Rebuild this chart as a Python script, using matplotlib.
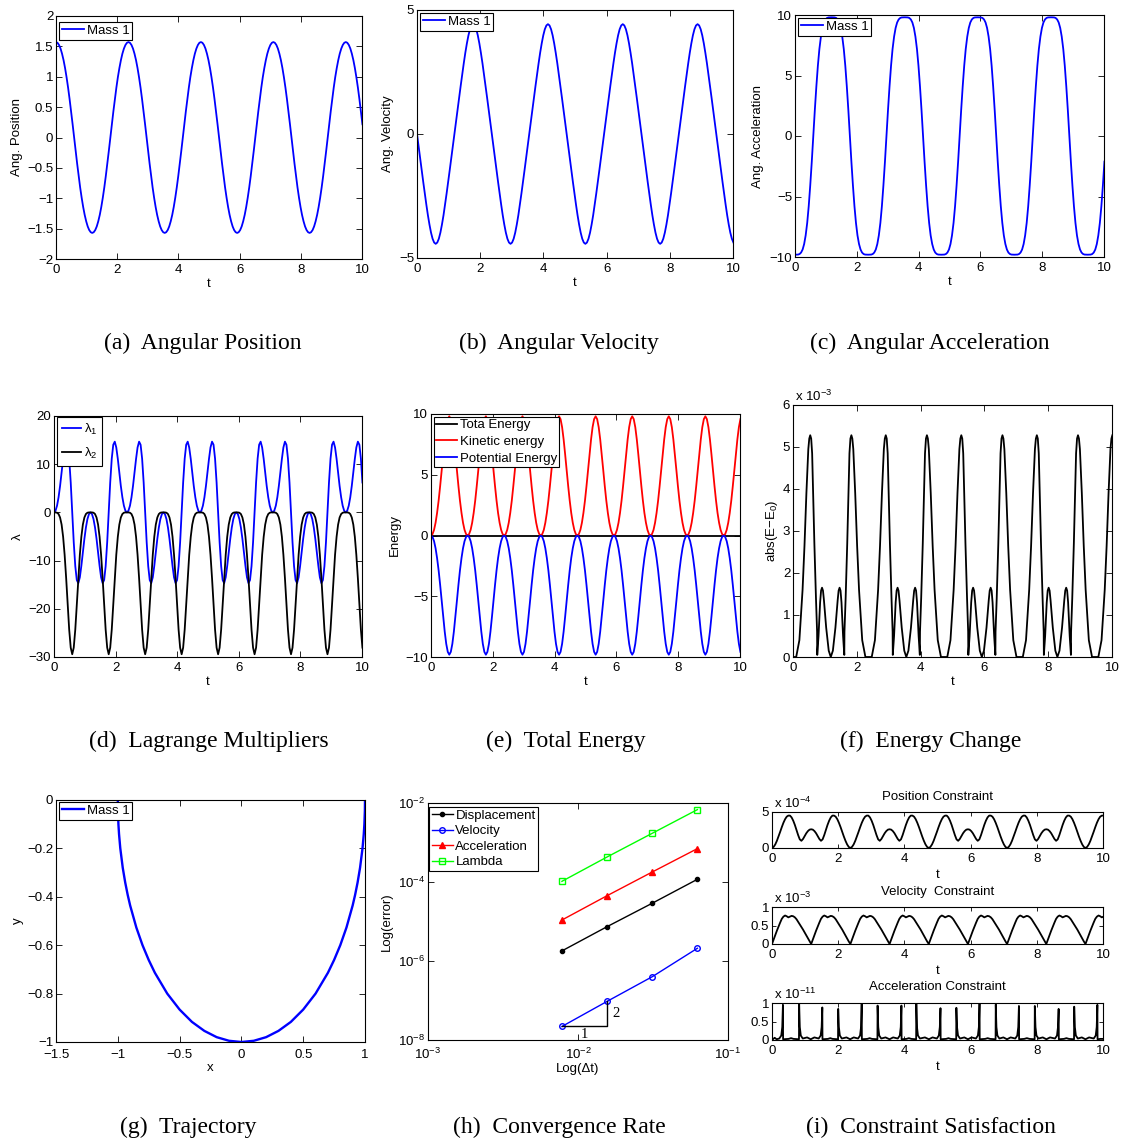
import matplotlib
matplotlib.use("Agg")
import matplotlib.pyplot as plt
from matplotlib.ticker import FixedLocator, NullLocator

plt.rcParams['font.family'] = ['Liberation Sans', 'DejaVu Sans']
plt.rcParams['mathtext.fontset'] = 'custom'
plt.rcParams['mathtext.rm'] = 'Liberation Sans'
plt.rcParams['mathtext.it'] = 'Liberation Sans:italic'
plt.rcParams['mathtext.bf'] = 'Liberation Sans:bold'

# ---- data ----
# time samples of the simulation (s), one row per swing period
t = [0.000, 0.049, 0.099, 0.148, 0.197, 0.247, 0.296, 0.345, 0.395, 0.444, 0.493, 0.543, 0.592, 0.641, 0.691, 0.740, 0.789, 0.839, 0.888, 0.937, 0.987, 1.036, 1.085, 1.135,
     1.184, 1.233, 1.283, 1.332, 1.381, 1.431, 1.480, 1.529, 1.579, 1.628, 1.677, 1.727, 1.776, 1.825, 1.875, 1.924, 1.973, 2.022, 2.072, 2.121, 2.170, 2.220, 2.269, 2.318,
     2.368, 2.417, 2.467, 2.516, 2.565, 2.615, 2.664, 2.713, 2.763, 2.812, 2.861, 2.911, 2.960, 3.009, 3.059, 3.108, 3.157, 3.207, 3.256, 3.305, 3.355, 3.404, 3.453, 3.503,
     3.552, 3.601, 3.651, 3.700, 3.749, 3.799, 3.848, 3.897, 3.947, 3.996, 4.045, 4.095, 4.144, 4.193, 4.243, 4.292, 4.341, 4.390, 4.440, 4.489, 4.538, 4.588, 4.637, 4.686,
     4.736, 4.785, 4.835, 4.884, 4.933, 4.983, 5.032, 5.081, 5.131, 5.180, 5.229, 5.279, 5.328, 5.377, 5.427, 5.476, 5.525, 5.575, 5.624, 5.673, 5.723, 5.772, 5.821, 5.871,
     5.920, 5.969, 6.019, 6.068, 6.117, 6.167, 6.216, 6.265, 6.315, 6.364, 6.413, 6.463, 6.512, 6.561, 6.611, 6.660, 6.709, 6.758, 6.808, 6.857, 6.906, 6.956, 7.005, 7.054,
     7.103, 7.152, 7.202, 7.251, 7.300, 7.350, 7.399, 7.448, 7.498, 7.547, 7.596, 7.646, 7.695, 7.744, 7.794, 7.843, 7.892, 7.942, 7.991, 8.040, 8.090, 8.139, 8.188, 8.238,
     8.287, 8.336, 8.386, 8.435, 8.484, 8.534, 8.583, 8.632, 8.682, 8.731, 8.780, 8.830, 8.879, 8.928, 8.978, 9.027, 9.076, 9.125, 9.175, 9.224, 9.273, 9.323, 9.372, 9.421,
     9.471, 9.520, 9.570, 9.619, 9.668, 9.718, 9.767, 9.816, 9.866, 9.915, 9.964, 10.014]

ang_pos = [1.571, 1.559, 1.523, 1.464, 1.380, 1.273, 1.144, 0.993, 0.821, 0.633, 0.430, 0.218, 0.000, -0.218, -0.430, -0.633, -0.821, -0.993, -1.144, -1.273, -1.380, -1.464, -1.523, -1.559,
           -1.571, -1.559, -1.523, -1.464, -1.380, -1.273, -1.144, -0.993, -0.821, -0.633, -0.430, -0.218, 0.000, 0.218, 0.430, 0.633, 0.821, 0.993, 1.144, 1.273, 1.380, 1.464, 1.523, 1.559,
           1.571, 1.559, 1.523, 1.464, 1.380, 1.273, 1.144, 0.993, 0.821, 0.633, 0.430, 0.218, 0.000, -0.218, -0.430, -0.633, -0.821, -0.993, -1.144, -1.273, -1.380, -1.464, -1.523, -1.559,
           -1.571, -1.559, -1.523, -1.464, -1.380, -1.273, -1.144, -0.993, -0.821, -0.633, -0.430, -0.218, 0.000, 0.218, 0.430, 0.633, 0.821, 0.993, 1.144, 1.273, 1.380, 1.464, 1.523, 1.559,
           1.571, 1.559, 1.523, 1.464, 1.380, 1.273, 1.144, 0.993, 0.821, 0.633, 0.430, 0.218, 0.000, -0.218, -0.430, -0.633, -0.821, -0.993, -1.144, -1.273, -1.380, -1.464, -1.523, -1.559,
           -1.571, -1.559, -1.523, -1.464, -1.380, -1.273, -1.144, -0.993, -0.821, -0.633, -0.430, -0.218, 0.000, 0.218, 0.430, 0.633, 0.821, 0.993, 1.144, 1.273, 1.380, 1.464, 1.523, 1.559,
           1.571, 1.559, 1.523, 1.464, 1.380, 1.273, 1.144, 0.993, 0.821, 0.633, 0.430, 0.218, 0.000, -0.218, -0.430, -0.633, -0.821, -0.993, -1.144, -1.273, -1.380, -1.464, -1.523, -1.559,
           -1.571, -1.559, -1.523, -1.464, -1.380, -1.273, -1.144, -0.993, -0.821, -0.633, -0.430, -0.218, 0.000, 0.218, 0.430, 0.633, 0.821, 0.993, 1.144, 1.273, 1.380, 1.464, 1.523, 1.559,
           1.571, 1.559, 1.523, 1.464, 1.380, 1.273, 1.144, 0.993, 0.821, 0.633, 0.430, 0.218]

ang_vel = [0.000, -0.484, -0.967, -1.450, -1.929, -2.398, -2.851, -3.275, -3.656, -3.978, -4.223, -4.377, -4.429, -4.377, -4.223, -3.978, -3.656, -3.275, -2.851, -2.398, -1.929, -1.450, -0.967, -0.484,
           0.000, 0.484, 0.967, 1.450, 1.929, 2.398, 2.851, 3.275, 3.656, 3.978, 4.223, 4.377, 4.429, 4.377, 4.223, 3.978, 3.656, 3.275, 2.851, 2.398, 1.929, 1.450, 0.967, 0.484,
           0.000, -0.484, -0.967, -1.450, -1.929, -2.398, -2.851, -3.275, -3.656, -3.978, -4.223, -4.377, -4.429, -4.377, -4.223, -3.978, -3.656, -3.275, -2.851, -2.398, -1.929, -1.450, -0.967, -0.484,
           0.000, 0.484, 0.967, 1.450, 1.929, 2.398, 2.851, 3.275, 3.656, 3.978, 4.223, 4.377, 4.429, 4.377, 4.223, 3.978, 3.656, 3.275, 2.851, 2.398, 1.929, 1.450, 0.967, 0.484,
           0.000, -0.484, -0.967, -1.450, -1.929, -2.398, -2.851, -3.275, -3.656, -3.978, -4.223, -4.377, -4.429, -4.377, -4.223, -3.978, -3.656, -3.275, -2.851, -2.398, -1.929, -1.450, -0.967, -0.484,
           0.000, 0.484, 0.967, 1.450, 1.929, 2.398, 2.851, 3.275, 3.656, 3.978, 4.223, 4.377, 4.429, 4.377, 4.223, 3.978, 3.656, 3.275, 2.851, 2.398, 1.929, 1.450, 0.967, 0.484,
           0.000, -0.484, -0.967, -1.450, -1.929, -2.398, -2.851, -3.275, -3.656, -3.978, -4.223, -4.377, -4.429, -4.377, -4.223, -3.978, -3.656, -3.275, -2.851, -2.398, -1.929, -1.450, -0.967, -0.484,
           0.000, 0.484, 0.967, 1.450, 1.929, 2.398, 2.851, 3.275, 3.656, 3.978, 4.223, 4.377, 4.429, 4.377, 4.223, 3.978, 3.656, 3.275, 2.851, 2.398, 1.929, 1.450, 0.967, 0.484,
           0.000, -0.484, -0.967, -1.450, -1.929, -2.398, -2.851, -3.275, -3.656, -3.978, -4.223, -4.377]

ang_acc = [-9.810, -9.809, -9.799, -9.754, -9.632, -9.379, -8.929, -8.215, -7.181, -5.801, -4.091, -2.118, 0.000, 2.118, 4.091, 5.801, 7.181, 8.215, 8.929, 9.379, 9.632, 9.754, 9.799, 9.809,
           9.810, 9.809, 9.799, 9.754, 9.632, 9.379, 8.929, 8.215, 7.181, 5.801, 4.091, 2.118, 0.000, -2.118, -4.091, -5.801, -7.181, -8.215, -8.929, -9.379, -9.632, -9.754, -9.799, -9.809,
           -9.810, -9.809, -9.799, -9.754, -9.632, -9.379, -8.929, -8.215, -7.181, -5.801, -4.091, -2.118, 0.000, 2.118, 4.091, 5.801, 7.181, 8.215, 8.929, 9.379, 9.632, 9.754, 9.799, 9.809,
           9.810, 9.809, 9.799, 9.754, 9.632, 9.379, 8.929, 8.215, 7.181, 5.801, 4.091, 2.118, 0.000, -2.118, -4.091, -5.801, -7.181, -8.215, -8.929, -9.379, -9.632, -9.754, -9.799, -9.809,
           -9.810, -9.809, -9.799, -9.754, -9.632, -9.379, -8.929, -8.215, -7.181, -5.801, -4.091, -2.118, 0.000, 2.118, 4.091, 5.801, 7.181, 8.215, 8.929, 9.379, 9.632, 9.754, 9.799, 9.809,
           9.810, 9.809, 9.799, 9.754, 9.632, 9.379, 8.929, 8.215, 7.181, 5.801, 4.091, 2.118, 0.000, -2.118, -4.091, -5.801, -7.181, -8.215, -8.929, -9.379, -9.632, -9.754, -9.799, -9.809,
           -9.810, -9.809, -9.799, -9.754, -9.632, -9.379, -8.929, -8.215, -7.181, -5.801, -4.091, -2.118, 0.000, 2.118, 4.091, 5.801, 7.181, 8.215, 8.929, 9.379, 9.632, 9.754, 9.799, 9.809,
           9.810, 9.809, 9.799, 9.754, 9.632, 9.379, 8.929, 8.215, 7.181, 5.801, 4.091, 2.118, 0.000, -2.118, -4.091, -5.801, -7.181, -8.215, -8.929, -9.379, -9.632, -9.754, -9.799, -9.809,
           -9.810, -9.809, -9.799, -9.754, -9.632, -9.379, -8.929, -8.215, -7.181, -5.801, -4.091, -2.118]

lambda1 = [0.000, 0.351, 1.400, 3.135, 5.479, 8.248, 11.095, 13.471, 14.677, 14.035, 11.156, 6.204, 0.000, -6.204, -11.156, -14.035, -14.677, -13.471, -11.095, -8.248, -5.479, -3.135, -1.400, -0.351,
           0.000, -0.351, -1.400, -3.135, -5.479, -8.248, -11.095, -13.471, -14.677, -14.035, -11.156, -6.204, 0.000, 6.204, 11.156, 14.035, 14.677, 13.471, 11.095, 8.248, 5.479, 3.135, 1.400, 0.351,
           0.000, 0.351, 1.400, 3.135, 5.479, 8.248, 11.095, 13.471, 14.677, 14.035, 11.156, 6.204, 0.000, -6.204, -11.156, -14.035, -14.677, -13.471, -11.095, -8.248, -5.479, -3.135, -1.400, -0.351,
           0.000, -0.351, -1.400, -3.135, -5.479, -8.248, -11.095, -13.471, -14.677, -14.035, -11.156, -6.204, 0.000, 6.204, 11.156, 14.035, 14.677, 13.471, 11.095, 8.248, 5.479, 3.135, 1.400, 0.351,
           0.000, 0.351, 1.400, 3.135, 5.479, 8.248, 11.095, 13.471, 14.677, 14.035, 11.156, 6.204, 0.000, -6.204, -11.156, -14.035, -14.677, -13.471, -11.095, -8.248, -5.479, -3.135, -1.400, -0.351,
           0.000, -0.351, -1.400, -3.135, -5.479, -8.248, -11.095, -13.471, -14.677, -14.035, -11.156, -6.204, 0.000, 6.204, 11.156, 14.035, 14.677, 13.471, 11.095, 8.248, 5.479, 3.135, 1.400, 0.351,
           0.000, 0.351, 1.400, 3.135, 5.479, 8.248, 11.095, 13.471, 14.677, 14.035, 11.156, 6.204, 0.000, -6.204, -11.156, -14.035, -14.677, -13.471, -11.095, -8.248, -5.479, -3.135, -1.400, -0.351,
           0.000, -0.351, -1.400, -3.135, -5.479, -8.248, -11.095, -13.471, -14.677, -14.035, -11.156, -6.204, 0.000, 6.204, 11.156, 14.035, 14.677, 13.471, 11.095, 8.248, 5.479, 3.135, 1.400, 0.351,
           0.000, 0.351, 1.400, 3.135, 5.479, 8.248, 11.095, 13.471, 14.677, 14.035, 11.156, 6.204]

lambda2 = [0.000, -0.004, -0.067, -0.338, -1.058, -2.529, -5.051, -8.793, -13.661, -19.137, -24.311, -28.058, -29.430, -28.058, -24.311, -19.137, -13.661, -8.793, -5.051, -2.529, -1.058, -0.338, -0.067, -0.004,
           0.000, -0.004, -0.067, -0.338, -1.058, -2.529, -5.051, -8.793, -13.661, -19.137, -24.311, -28.058, -29.430, -28.058, -24.311, -19.137, -13.661, -8.793, -5.051, -2.529, -1.058, -0.338, -0.067, -0.004,
           0.000, -0.004, -0.067, -0.338, -1.058, -2.529, -5.051, -8.793, -13.661, -19.137, -24.311, -28.058, -29.430, -28.058, -24.311, -19.137, -13.661, -8.793, -5.051, -2.529, -1.058, -0.338, -0.067, -0.004,
           0.000, -0.004, -0.067, -0.338, -1.058, -2.529, -5.051, -8.793, -13.661, -19.137, -24.311, -28.058, -29.430, -28.058, -24.311, -19.137, -13.661, -8.793, -5.051, -2.529, -1.058, -0.338, -0.067, -0.004,
           0.000, -0.004, -0.067, -0.338, -1.058, -2.529, -5.051, -8.793, -13.661, -19.137, -24.311, -28.058, -29.430, -28.058, -24.311, -19.137, -13.661, -8.793, -5.051, -2.529, -1.058, -0.338, -0.067, -0.004,
           0.000, -0.004, -0.067, -0.338, -1.058, -2.529, -5.051, -8.793, -13.661, -19.137, -24.311, -28.058, -29.430, -28.058, -24.311, -19.137, -13.661, -8.793, -5.051, -2.529, -1.058, -0.338, -0.067, -0.004,
           0.000, -0.004, -0.067, -0.338, -1.058, -2.529, -5.051, -8.793, -13.661, -19.137, -24.311, -28.058, -29.430, -28.058, -24.311, -19.137, -13.661, -8.793, -5.051, -2.529, -1.058, -0.338, -0.067, -0.004,
           0.000, -0.004, -0.067, -0.338, -1.058, -2.529, -5.051, -8.793, -13.661, -19.137, -24.311, -28.058, -29.430, -28.058, -24.311, -19.137, -13.661, -8.793, -5.051, -2.529, -1.058, -0.338, -0.067, -0.004,
           0.000, -0.004, -0.067, -0.338, -1.058, -2.529, -5.051, -8.793, -13.661, -19.137, -24.311, -28.058]

kinetic = [0.000, 0.117, 0.467, 1.051, 1.860, 2.876, 4.064, 5.362, 6.684, 7.911, 8.916, 9.579, 9.810, 9.579, 8.916, 7.911, 6.684, 5.362, 4.064, 2.876, 1.860, 1.051, 0.467, 0.117,
           0.000, 0.117, 0.467, 1.051, 1.860, 2.876, 4.064, 5.362, 6.684, 7.911, 8.916, 9.579, 9.810, 9.579, 8.916, 7.911, 6.684, 5.362, 4.064, 2.876, 1.860, 1.051, 0.467, 0.117,
           0.000, 0.117, 0.467, 1.051, 1.860, 2.876, 4.064, 5.362, 6.684, 7.911, 8.916, 9.579, 9.810, 9.579, 8.916, 7.911, 6.684, 5.362, 4.064, 2.876, 1.860, 1.051, 0.467, 0.117,
           0.000, 0.117, 0.467, 1.051, 1.860, 2.876, 4.064, 5.362, 6.684, 7.911, 8.916, 9.579, 9.810, 9.579, 8.916, 7.911, 6.684, 5.362, 4.064, 2.876, 1.860, 1.051, 0.467, 0.117,
           0.000, 0.117, 0.467, 1.051, 1.860, 2.876, 4.064, 5.362, 6.684, 7.911, 8.916, 9.579, 9.810, 9.579, 8.916, 7.911, 6.684, 5.362, 4.064, 2.876, 1.860, 1.051, 0.467, 0.117,
           0.000, 0.117, 0.467, 1.051, 1.860, 2.876, 4.064, 5.362, 6.684, 7.911, 8.916, 9.579, 9.810, 9.579, 8.916, 7.911, 6.684, 5.362, 4.064, 2.876, 1.860, 1.051, 0.467, 0.117,
           0.000, 0.117, 0.467, 1.051, 1.860, 2.876, 4.064, 5.362, 6.684, 7.911, 8.916, 9.579, 9.810, 9.579, 8.916, 7.911, 6.684, 5.362, 4.064, 2.876, 1.860, 1.051, 0.467, 0.117,
           0.000, 0.117, 0.467, 1.051, 1.860, 2.876, 4.064, 5.362, 6.684, 7.911, 8.916, 9.579, 9.810, 9.579, 8.916, 7.911, 6.684, 5.362, 4.064, 2.876, 1.860, 1.051, 0.467, 0.117,
           0.000, 0.117, 0.467, 1.051, 1.860, 2.876, 4.064, 5.362, 6.684, 7.911, 8.916, 9.579]

potential = [0.000, -0.117, -0.467, -1.051, -1.860, -2.876, -4.064, -5.362, -6.684, -7.911, -8.916, -9.579, -9.810, -9.579, -8.916, -7.911, -6.684, -5.362, -4.064, -2.876, -1.860, -1.051, -0.467, -0.117,
             0.000, -0.117, -0.467, -1.051, -1.860, -2.876, -4.064, -5.362, -6.684, -7.911, -8.916, -9.579, -9.810, -9.579, -8.916, -7.911, -6.684, -5.362, -4.064, -2.876, -1.860, -1.051, -0.467, -0.117,
             0.000, -0.117, -0.467, -1.051, -1.860, -2.876, -4.064, -5.362, -6.684, -7.911, -8.916, -9.579, -9.810, -9.579, -8.916, -7.911, -6.684, -5.362, -4.064, -2.876, -1.860, -1.051, -0.467, -0.117,
             0.000, -0.117, -0.467, -1.051, -1.860, -2.876, -4.064, -5.362, -6.684, -7.911, -8.916, -9.579, -9.810, -9.579, -8.916, -7.911, -6.684, -5.362, -4.064, -2.876, -1.860, -1.051, -0.467, -0.117,
             0.000, -0.117, -0.467, -1.051, -1.860, -2.876, -4.064, -5.362, -6.684, -7.911, -8.916, -9.579, -9.810, -9.579, -8.916, -7.911, -6.684, -5.362, -4.064, -2.876, -1.860, -1.051, -0.467, -0.117,
             0.000, -0.117, -0.467, -1.051, -1.860, -2.876, -4.064, -5.362, -6.684, -7.911, -8.916, -9.579, -9.810, -9.579, -8.916, -7.911, -6.684, -5.362, -4.064, -2.876, -1.860, -1.051, -0.467, -0.117,
             0.000, -0.117, -0.467, -1.051, -1.860, -2.876, -4.064, -5.362, -6.684, -7.911, -8.916, -9.579, -9.810, -9.579, -8.916, -7.911, -6.684, -5.362, -4.064, -2.876, -1.860, -1.051, -0.467, -0.117,
             0.000, -0.117, -0.467, -1.051, -1.860, -2.876, -4.064, -5.362, -6.684, -7.911, -8.916, -9.579, -9.810, -9.579, -8.916, -7.911, -6.684, -5.362, -4.064, -2.876, -1.860, -1.051, -0.467, -0.117,
             0.000, -0.117, -0.467, -1.051, -1.860, -2.876, -4.064, -5.362, -6.684, -7.911, -8.916, -9.579]

total_t = [0.0, 10.0]
total = [0.0, 0.0]

# position constraint (x 1e-4) and velocity constraint (x 1e-3) on the same time samples
pos_con = [0.00, 0.15, 0.50, 1.00, 1.60, 2.25, 2.90, 3.50, 4.00, 4.35, 4.50, 4.50, 4.25, 3.80, 3.20, 2.50, 1.80, 1.20, 1.00, 1.25, 1.65, 2.05, 2.35, 2.55,
           2.60, 2.55, 2.35, 2.05, 1.65, 1.25, 1.00, 1.20, 1.80, 2.50, 3.20, 3.80, 4.25, 4.50, 4.50, 4.35, 4.00, 3.50, 2.90, 2.25, 1.60, 1.00, 0.50, 0.15,
           0.00, 0.15, 0.50, 1.00, 1.60, 2.25, 2.90, 3.50, 4.00, 4.35, 4.50, 4.50, 4.25, 3.80, 3.20, 2.50, 1.80, 1.20, 1.00, 1.25, 1.65, 2.05, 2.35, 2.55,
           2.60, 2.55, 2.35, 2.05, 1.65, 1.25, 1.00, 1.20, 1.80, 2.50, 3.20, 3.80, 4.25, 4.50, 4.50, 4.35, 4.00, 3.50, 2.90, 2.25, 1.60, 1.00, 0.50, 0.15,
           0.00, 0.15, 0.50, 1.00, 1.60, 2.25, 2.90, 3.50, 4.00, 4.35, 4.50, 4.50, 4.25, 3.80, 3.20, 2.50, 1.80, 1.20, 1.00, 1.25, 1.65, 2.05, 2.35, 2.55,
           2.60, 2.55, 2.35, 2.05, 1.65, 1.25, 1.00, 1.20, 1.80, 2.50, 3.20, 3.80, 4.25, 4.50, 4.50, 4.35, 4.00, 3.50, 2.90, 2.25, 1.60, 1.00, 0.50, 0.15,
           0.00, 0.15, 0.50, 1.00, 1.60, 2.25, 2.90, 3.50, 4.00, 4.35, 4.50, 4.50, 4.25, 3.80, 3.20, 2.50, 1.80, 1.20, 1.00, 1.25, 1.65, 2.05, 2.35, 2.55,
           2.60, 2.55, 2.35, 2.05, 1.65, 1.25, 1.00, 1.20, 1.80, 2.50, 3.20, 3.80, 4.25, 4.50, 4.50, 4.35, 4.00, 3.50, 2.90, 2.25, 1.60, 1.00, 0.50, 0.15,
           0.00, 0.15, 0.50, 1.00, 1.60, 2.25, 2.90, 3.50, 4.00, 4.35, 4.50, 4.50]

vel_con = [0.00, 0.12, 0.24, 0.36, 0.47, 0.58, 0.68, 0.74, 0.77, 0.75, 0.72, 0.74, 0.76, 0.75, 0.72, 0.67, 0.60, 0.53, 0.46, 0.39, 0.31, 0.23, 0.15, 0.07,
           0.00, 0.12, 0.24, 0.36, 0.47, 0.58, 0.68, 0.74, 0.77, 0.75, 0.72, 0.74, 0.76, 0.75, 0.72, 0.67, 0.60, 0.53, 0.46, 0.39, 0.31, 0.23, 0.15, 0.07,
           0.00, 0.12, 0.24, 0.36, 0.47, 0.58, 0.68, 0.74, 0.77, 0.75, 0.72, 0.74, 0.76, 0.75, 0.72, 0.67, 0.60, 0.53, 0.46, 0.39, 0.31, 0.23, 0.15, 0.07,
           0.00, 0.12, 0.24, 0.36, 0.47, 0.58, 0.68, 0.74, 0.77, 0.75, 0.72, 0.74, 0.76, 0.75, 0.72, 0.67, 0.60, 0.53, 0.46, 0.39, 0.31, 0.23, 0.15, 0.07,
           0.00, 0.12, 0.24, 0.36, 0.47, 0.58, 0.68, 0.74, 0.77, 0.75, 0.72, 0.74, 0.76, 0.75, 0.72, 0.67, 0.60, 0.53, 0.46, 0.39, 0.31, 0.23, 0.15, 0.07,
           0.00, 0.12, 0.24, 0.36, 0.47, 0.58, 0.68, 0.74, 0.77, 0.75, 0.72, 0.74, 0.76, 0.75, 0.72, 0.67, 0.60, 0.53, 0.46, 0.39, 0.31, 0.23, 0.15, 0.07,
           0.00, 0.12, 0.24, 0.36, 0.47, 0.58, 0.68, 0.74, 0.77, 0.75, 0.72, 0.74, 0.76, 0.75, 0.72, 0.67, 0.60, 0.53, 0.46, 0.39, 0.31, 0.23, 0.15, 0.07,
           0.00, 0.12, 0.24, 0.36, 0.47, 0.58, 0.68, 0.74, 0.77, 0.75, 0.72, 0.74, 0.76, 0.75, 0.72, 0.67, 0.60, 0.53, 0.46, 0.39, 0.31, 0.23, 0.15, 0.07,
           0.00, 0.12, 0.24, 0.36, 0.47, 0.58, 0.68, 0.74, 0.77, 0.75, 0.72, 0.74]

# energy change |E - E0| (x 1e-3), one row per swing period
de_t = [0.000, 0.100, 0.200, 0.300, 0.360, 0.420, 0.480, 0.510, 0.540, 0.570, 0.600, 0.670, 0.720, 0.755, 0.760, 0.800, 0.850, 0.880, 0.910, 0.940, 0.970, 1.040, 1.120,
        1.184, 1.250, 1.330, 1.400, 1.430, 1.460, 1.490, 1.520, 1.570, 1.608, 1.613, 1.650, 1.700, 1.770, 1.800, 1.830, 1.860, 1.890, 1.950, 2.010, 2.070, 2.170, 2.270,
        2.368, 2.468, 2.568, 2.668, 2.728, 2.788, 2.848, 2.878, 2.908, 2.938, 2.968, 3.038, 3.088, 3.123, 3.128, 3.168, 3.218, 3.248, 3.278, 3.308, 3.338, 3.408, 3.488,
        3.552, 3.618, 3.698, 3.768, 3.798, 3.828, 3.858, 3.888, 3.938, 3.976, 3.981, 4.018, 4.068, 4.138, 4.168, 4.198, 4.228, 4.258, 4.318, 4.378, 4.438, 4.538, 4.638,
        4.736, 4.836, 4.936, 5.036, 5.096, 5.156, 5.216, 5.246, 5.276, 5.306, 5.336, 5.406, 5.456, 5.491, 5.496, 5.536, 5.586, 5.616, 5.646, 5.676, 5.706, 5.776, 5.856,
        5.920, 5.986, 6.066, 6.136, 6.166, 6.196, 6.226, 6.256, 6.306, 6.344, 6.349, 6.386, 6.436, 6.506, 6.536, 6.566, 6.596, 6.626, 6.686, 6.746, 6.806, 6.906, 7.006,
        7.104, 7.204, 7.304, 7.404, 7.464, 7.524, 7.584, 7.614, 7.644, 7.674, 7.704, 7.774, 7.824, 7.859, 7.864, 7.904, 7.954, 7.984, 8.014, 8.044, 8.074, 8.144, 8.224,
        8.288, 8.354, 8.434, 8.504, 8.534, 8.564, 8.594, 8.624, 8.674, 8.712, 8.717, 8.754, 8.804, 8.874, 8.904, 8.934, 8.964, 8.994, 9.054, 9.114, 9.174, 9.274, 9.374,
        9.472, 9.572, 9.672, 9.772, 9.832, 9.892, 9.952, 9.982, 10.012]
de_val = [0.00, 0.00, 0.40, 1.60, 2.65, 3.90, 4.95, 5.20, 5.28, 5.20, 4.85, 2.70, 1.40, 0.60, 0.05, 0.50, 1.30, 1.58, 1.65, 1.58, 1.35, 0.70, 0.15,
          0.00, 0.15, 0.70, 1.35, 1.58, 1.65, 1.58, 1.30, 0.50, 0.05, 0.60, 1.40, 2.70, 4.85, 5.20, 5.28, 5.20, 4.95, 3.90, 2.65, 1.60, 0.40, 0.00,
          0.00, 0.00, 0.40, 1.60, 2.65, 3.90, 4.95, 5.20, 5.28, 5.20, 4.85, 2.70, 1.40, 0.60, 0.05, 0.50, 1.30, 1.58, 1.65, 1.58, 1.35, 0.70, 0.15,
          0.00, 0.15, 0.70, 1.35, 1.58, 1.65, 1.58, 1.30, 0.50, 0.05, 0.60, 1.40, 2.70, 4.85, 5.20, 5.28, 5.20, 4.95, 3.90, 2.65, 1.60, 0.40, 0.00,
          0.00, 0.00, 0.40, 1.60, 2.65, 3.90, 4.95, 5.20, 5.28, 5.20, 4.85, 2.70, 1.40, 0.60, 0.05, 0.50, 1.30, 1.58, 1.65, 1.58, 1.35, 0.70, 0.15,
          0.00, 0.15, 0.70, 1.35, 1.58, 1.65, 1.58, 1.30, 0.50, 0.05, 0.60, 1.40, 2.70, 4.85, 5.20, 5.28, 5.20, 4.95, 3.90, 2.65, 1.60, 0.40, 0.00,
          0.00, 0.00, 0.40, 1.60, 2.65, 3.90, 4.95, 5.20, 5.28, 5.20, 4.85, 2.70, 1.40, 0.60, 0.05, 0.50, 1.30, 1.58, 1.65, 1.58, 1.35, 0.70, 0.15,
          0.00, 0.15, 0.70, 1.35, 1.58, 1.65, 1.58, 1.30, 0.50, 0.05, 0.60, 1.40, 2.70, 4.85, 5.20, 5.28, 5.20, 4.95, 3.90, 2.65, 1.60, 0.40, 0.00,
          0.00, 0.00, 0.40, 1.60, 2.65, 3.90, 4.95, 5.20, 5.28]

# acceleration constraint (x 1e-11)
acc_con_t = [0.00, 0.08, 0.14, 0.22, 0.28, 0.31, 0.33, 0.335, 0.50, 0.575, 0.65, 0.815, 0.82, 0.84, 0.87, 0.93,
             1.06, 1.17, 1.28, 1.41, 1.47, 1.50, 1.52, 1.525, 1.69, 1.76, 1.83, 1.995, 2.00, 2.02, 2.05, 2.11,
             2.25, 2.36, 2.47, 2.60, 2.66, 2.69, 2.71, 2.715, 2.88, 2.95, 3.02, 3.185, 3.19, 3.21, 3.24, 3.30,
             3.43, 3.55, 3.66, 3.80, 3.86, 3.89, 3.91, 3.915, 4.06, 4.135, 4.21, 4.355, 4.36, 4.38, 4.41, 4.47,
             4.62, 4.74, 4.85, 4.98, 5.04, 5.07, 5.09, 5.095, 5.26, 5.33, 5.40, 5.565, 5.57, 5.59, 5.62, 5.68,
             5.81, 5.92, 6.03, 6.16, 6.22, 6.25, 6.27, 6.275, 6.44, 6.515, 6.59, 6.755, 6.76, 6.78, 6.81, 6.87,
             6.99, 7.10, 7.21, 7.35, 7.41, 7.44, 7.46, 7.465, 7.62, 7.70, 7.78, 7.935, 7.94, 7.96, 7.99, 8.05,
             8.18, 8.29, 8.40, 8.55, 8.61, 8.64, 8.66, 8.665, 8.82, 8.895, 8.97, 9.125, 9.13, 9.15, 9.18, 9.24,
             9.36, 9.47, 9.58, 9.72, 9.78, 9.81, 9.83, 9.835, 9.92, 10.00]
acc_con = [0.00, 0.06, 0.02, 0.04, 0.12, 0.35, 0.95, 0.02, 0.03, 0.05, 0.03, 0.02, 0.97, 0.35, 0.12, 0.04,
           0.07, 0.02, 0.07, 0.04, 0.12, 0.35, 0.88, 0.02, 0.03, 0.05, 0.03, 0.02, 0.84, 0.35, 0.12, 0.04,
           0.07, 0.02, 0.07, 0.04, 0.12, 0.35, 1.00, 0.02, 0.03, 0.05, 0.03, 0.02, 0.93, 0.35, 0.12, 0.04,
           0.07, 0.02, 0.07, 0.04, 0.12, 0.35, 0.93, 0.02, 0.03, 0.05, 0.03, 0.02, 1.00, 0.35, 0.12, 0.04,
           0.07, 0.02, 0.07, 0.04, 0.12, 0.35, 0.86, 0.02, 0.03, 0.05, 0.03, 0.02, 0.87, 0.35, 0.12, 0.04,
           0.07, 0.02, 0.07, 0.04, 0.12, 0.35, 1.00, 0.02, 0.03, 0.05, 0.03, 0.02, 0.96, 0.35, 0.12, 0.04,
           0.07, 0.02, 0.07, 0.04, 0.12, 0.35, 0.92, 0.02, 0.03, 0.05, 0.03, 0.02, 0.92, 0.35, 0.12, 0.04,
           0.07, 0.02, 0.07, 0.04, 0.12, 0.35, 0.84, 0.02, 0.03, 0.05, 0.03, 0.02, 0.90, 0.35, 0.12, 0.04,
           0.07, 0.02, 0.07, 0.04, 0.12, 0.35, 0.95, 0.02, 0.03, 0.03]

# trajectory of the mass
traj_x = [-1.0, -0.999, -0.995, -0.99, -0.98, -0.96, -0.94, -0.92, -0.90, -0.85, -0.80, -0.75, -0.70, -0.60, -0.50, -0.40, -0.30, -0.20, -0.10,
          0.0, 0.10, 0.20, 0.30, 0.40, 0.50, 0.60, 0.70, 0.75, 0.80, 0.85, 0.90, 0.92, 0.94, 0.96, 0.98, 0.99, 0.995, 0.999, 1.0]
traj_y = [0.0, -0.045, -0.100, -0.141, -0.199, -0.280, -0.341, -0.392, -0.436, -0.527, -0.600, -0.661, -0.714, -0.800, -0.866, -0.917, -0.954, -0.980, -0.995,
          -1.0, -0.995, -0.980, -0.954, -0.917, -0.866, -0.800, -0.714, -0.661, -0.600, -0.527, -0.436, -0.392, -0.341, -0.280, -0.199, -0.141, -0.100, -0.045, 0.0]

# convergence study
dt = [0.0078125, 0.015625, 0.03125, 0.0625]
err_disp = [1.8e-6, 7.4e-6, 2.9e-5, 1.17e-4]
err_vel = [2.2e-8, 9.5e-8, 4.0e-7, 2.1e-6]
err_acc = [1.09e-5, 4.5e-5, 1.79e-4, 7.0e-4]
err_lam = [1.04e-4, 4.3e-4, 1.71e-3, 6.8e-3]

# ---- figure ----
W, H = 1122, 1144
fig = plt.figure(figsize=(W / 100, H / 100), dpi=100)
FS = 9.5
LW = 1.3
BLUE, RED, GREEN = '#0000ff', '#ff0000', '#00ff00'


def box(l, t_, r, b):
    ax = fig.add_axes([l / W, 1 - b / H, (r - l) / W, (b - t_) / H])
    ax.tick_params(direction='in', top=True, right=True, length=4, width=0.6,
                   labelsize=FS, pad=2)
    ax.tick_params(axis='x', pad=3.5)
    for s in ax.spines.values():
        s.set_linewidth(0.8)
    return ax


def legend(ax, dx, dy, **kw):
    pos = ax.get_position()
    opts = dict(loc='upper left', bbox_to_anchor=(pos.x0 + dx / W, pos.y1 - dy / H),
                bbox_transform=fig.transFigure, fontsize=FS, frameon=True, fancybox=False,
                edgecolor='black', framealpha=1, borderpad=0.2, handlelength=1.7,
                handletextpad=0.2, labelspacing=0.33, borderaxespad=0)
    opts.update(kw)
    lg = ax.legend(**opts)
    lg.get_frame().set_linewidth(0.8)
    return lg


def ylab(x, ax, s):
    pos = ax.get_position()
    fig.text(x / W, pos.y0 + pos.height / 2, s, rotation=90, ha='center', va='center', fontsize=FS)


def caption(x, y, s):
    fig.text(x / W, 1 - y / H, s, ha='center', va='center',
             family='Liberation Serif', fontsize=17)


def tlabel(ax, s='t', pad=1.5):
    ax.set_xlabel(s, fontsize=FS, labelpad=pad)


# (a) angular position
ax = box(56, 16, 362, 259)
ax.plot(t, ang_pos, color=BLUE, lw=LW, label='Mass 1')
ax.set_xlim(0, 10)
ax.set_ylim(-2, 2)
ax.set_yticks([-2, -1.5, -1, -0.5, 0, 0.5, 1, 1.5, 2])
ax.set_yticklabels(['\u22122', '\u22121.5', '\u22121', '\u22120.5', '0', '0.5', '1', '1.5', '2'])
tlabel(ax)
ylab(17, ax, 'Ang. Position')
legend(ax, 3, 6)

# (b) angular velocity
ax = box(417, 10, 733, 258)
ax.plot(t, ang_vel, color=BLUE, lw=LW, label='Mass 1')
ax.set_xlim(0, 10)
ax.set_ylim(-5, 5)
ax.set_yticks([-5, 0, 5])
tlabel(ax)
ylab(388, ax, 'Ang. Velocity')
legend(ax, 3, 3)

# (c) angular acceleration
ax = box(795, 15, 1104, 257)
ax.plot(t, ang_acc, color=BLUE, lw=LW, label='Mass 1')
ax.set_xlim(0, 10)
ax.set_ylim(-10, 10)
ax.set_yticks([-10, -5, 0, 5, 10])
tlabel(ax)
ylab(758, ax, 'Ang. Acceleration')
legend(ax, 3, 3)

# (d) Lagrange multipliers
ax = box(54, 416, 362, 657)
ax.plot(t, lambda1, color=BLUE, lw=LW, label='\u03bb$_1$')
ax.plot(t, lambda2, color='black', lw=LW, label='\u03bb$_2$')
ax.set_xlim(0, 10)
ax.set_ylim(-30, 20)
ax.set_yticks([-30, -20, -10, 0, 10, 20])
tlabel(ax)
ylab(18, ax, '\u03bb')
legend(ax, 3, 1, labelspacing=0.7, borderpad=0.35, handlelength=1.5)

# (e) total energy
ax = box(431, 414, 740, 657)
ax.plot(total_t, total, color='black', lw=LW, label='Tota Energy')
ax.plot(t, kinetic, color=RED, lw=LW, label='Kinetic energy')
ax.plot(t, potential, color=BLUE, lw=LW, label='Potential Energy')
ax.set_xlim(0, 10)
ax.set_ylim(-10, 10)
ax.set_yticks([-10, -5, 0, 5, 10])
tlabel(ax)
ylab(395, ax, 'Energy')
legend(ax, 3, 3, borderpad=0.16, handlelength=1.6)

# (f) energy change
ax = box(793, 405, 1112, 657)
ax.plot(de_t, de_val, color='black', lw=LW)
ax.set_xlim(0, 10)
ax.set_ylim(0, 6)
ax.set_yticks([0, 1, 2, 3, 4, 5, 6])
tlabel(ax)
ylab(772, ax, 'abs(E\u2212E$_0$)')
ax.text(0.005, 1.005, 'x 10$^{\u22123}$', transform=ax.transAxes, ha='left', va='bottom', fontsize=FS)

# (g) trajectory
ax = box(56, 800, 365, 1042)
ax.plot(traj_x, traj_y, color=BLUE, lw=1.7, label='Mass 1')
ax.set_xlim(-1.5, 1)
ax.set_ylim(-1, 0)
ax.set_xticks([-1.5, -1, -0.5, 0, 0.5, 1])
ax.set_xticklabels(['\u22121.5', '\u22121', '\u22120.5', '0', '0.5', '1'])
ax.set_yticks([-1, -0.8, -0.6, -0.4, -0.2, 0])
ax.set_yticklabels(['\u22121', '\u22120.8', '\u22120.6', '\u22120.4', '\u22120.2', '0'])
ax.tick_params(axis='x', pad=5)
ax.set_xlabel('x', fontsize=FS, labelpad=0.5)
ylab(18, ax, 'y')
legend(ax, 3, 2)

# (h) convergence rate
ax = box(428, 803, 728, 1040)
ax.plot(dt, err_disp, color='black', marker='.', ms=6, lw=1.0, label='Displacement')
ax.plot(dt, err_vel, color=BLUE, marker='o', ms=4, mfc='none', lw=1.0, label='Velocity')
ax.plot(dt, err_acc, color=RED, marker='^', ms=5, lw=1.0, label='Acceleration')
ax.plot(dt, err_lam, color=GREEN, marker='s', ms=4, mfc='none', lw=1.0, label='Lambda')
ax.set_xscale('log')
ax.set_yscale('log')
ax.set_xlim(1e-3, 1e-1)
ax.set_ylim(1e-8, 1e-2)
ax.xaxis.set_major_locator(FixedLocator([1e-3, 1e-2, 1e-1]))
ax.yaxis.set_major_locator(FixedLocator([1e-8, 1e-6, 1e-4, 1e-2]))
ax.xaxis.set_minor_locator(NullLocator())
ax.yaxis.set_minor_locator(NullLocator())
ax.tick_params(axis='x', pad=5)
# slope triangle on the velocity line
ax.plot([dt[0], dt[1], dt[1]], [err_vel[0], err_vel[0], err_vel[1]], color='black', lw=1.0)
ax.text((dt[0] * dt[1]) ** 0.5, err_vel[0] * 0.93, '1', ha='center', va='top',
        family='Liberation Serif', fontsize=10.5)
ax.text(dt[1] * 1.08, (err_vel[0] * err_vel[1]) ** 0.5, '2', ha='left', va='center',
        family='Liberation Serif', fontsize=10.5)
ax.set_xlabel('Log(\u0394t)', fontsize=FS, labelpad=0.5)
ylab(387, ax, 'Log(error)')
legend(ax, 1, 4, labelspacing=0.25, handlelength=1.6)

# (i) constraint satisfaction
cons = [
    (812, 848, pos_con, t, 5, [0, 5], ['0', '5'], 'Position Constraint', '\u22124'),
    (907, 944, vel_con, t, 1, [0, 0.5, 1], ['0', '0.5', '1'], 'Velocity  Constraint', '\u22123'),
    (1003, 1040, acc_con, acc_con_t, 1, [0, 0.5, 1], ['0', '0.5', '1'], 'Acceleration Constraint', '\u221211'),
]
for top, bot, vals, tt, ymax, yt, ytl, title, ex in cons:
    ax = box(772, top, 1103, bot)
    ax.plot(tt, vals, color='black', lw=LW)
    ax.set_xlim(0, 10)
    ax.set_ylim(0, ymax)
    ax.set_yticks(yt)
    ax.set_yticklabels(ytl)
    ax.set_xticks([0, 2, 4, 6, 8, 10])
    ax.tick_params(length=3)
    tlabel(ax, pad=3)
    ax.set_title(title, fontsize=FS, pad=9)
    ax.text(0.005, 1.02, 'x 10$^{%s}$' % ex, transform=ax.transAxes,
            ha='left', va='bottom', fontsize=FS)

# sub-captions
caption(203, 343, '(a)  Angular Position')
caption(559, 343, '(b)  Angular Velocity')
caption(930, 343, '(c)  Angular Acceleration')
caption(209, 741, '(d)  Lagrange Multipliers')
caption(566, 741, '(e)  Total Energy')
caption(931, 741, '(f)  Energy Change')
caption(188, 1127, '(g)  Trajectory')
caption(559, 1127, '(h)  Convergence Rate')
caption(931, 1127, '(i)  Constraint Satisfaction')

fig.savefig('out.png', dpi=100, facecolor='white')
